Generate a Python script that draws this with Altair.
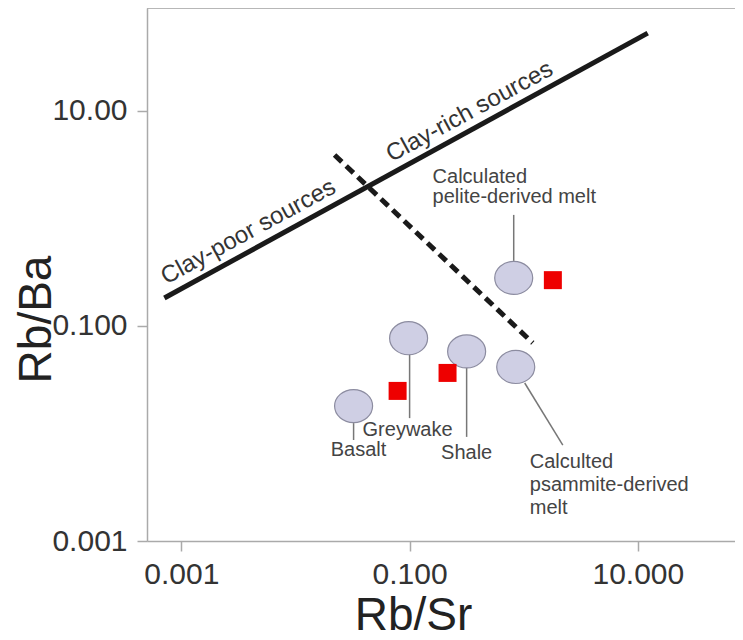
import altair as alt
import pandas as pd

# ---- data ----
circle_names = ["Basalt", "Greywake", "Shale", "Calculated psammite-derived melt", "Calculated pelite-derived melt"]
circle_rbsr = [0.0323, 0.098, 0.316, 0.851, 0.817]
circle_rbba = [0.018, 0.077, 0.058, 0.0416, 0.28]

square_rbsr = [0.0785, 0.215, 1.80]
square_rbba = [0.0249, 0.0366, 0.267]

clay_line_rbsr = [0.00071, 12.2]
clay_line_rbba = [0.182, 53.0]
dash_line_rbsr = [0.022, 1.2]
dash_line_rbba = [3.9, 0.0696]

leader_x1 = [0.0323, 0.1, 0.316, 1.02, 0.817]
leader_y1 = [0.0125, 0.055, 0.0407, 0.0295, 0.403]
leader_x2 = [0.0323, 0.1, 0.316, 2.2, 0.817]
leader_y2 = [0.0087, 0.0139, 0.0093, 0.0078, 1.08]

center_labels = ["Basalt", "Greywake", "Shale"]
center_label_x = [0.0357, 0.096, 0.316]
center_label_y = [0.00703, 0.0108, 0.0066]

left_labels = ["Calculted", "psammite-derived", "melt", "Calculated", "pelite-derived melt"]
left_label_x = [1.13, 1.13, 1.13, 0.159, 0.159]
left_label_y = [0.00544, 0.00332, 0.00203, 2.43, 1.585]

region_labels = ["Clay-poor sources", "Clay-rich sources"]
region_x = [0.00387, 0.336]
region_y = [0.748, 9.8]

x_ticks = [0.001, 0.1, 10]
y_ticks = [0.001, 0.1, 10]

FONT = "Liberation Sans"
W, H = 588, 533

xs = alt.Scale(type="log", domain=[0.0005, 71], nice=False)
ys = alt.Scale(type="log", domain=[0.001, 90.8], nice=False)

xaxis = alt.Axis(values=x_ticks, format=".3f", title="Rb/Sr", grid=False,
                 tickSize=10, tickColor="#aaaaaa", tickWidth=1.5,
                 domainColor="#aaaaaa", domainWidth=1.5,
                 labelFontSize=30, labelColor="#333333", labelPadding=8,
                 labelFont=FONT, labelFlush=False, labelOverlap=False,
                 titleFont=FONT, titleFontSize=46, titleFontWeight="normal",
                 titleColor="#222222", titleX=266, titleY=88,
                 titleBaseline="alphabetic", titleAlign="center")
yaxis = alt.Axis(values=y_ticks,
                 labelExpr="datum.value >= 10 ? format(datum.value, '.2f') : format(datum.value, '.3f')",
                 title="Rb/Ba", grid=False,
                 tickSize=10, tickColor="#aaaaaa", tickWidth=1.5,
                 domainColor="#aaaaaa", domainWidth=1.5,
                 labelFontSize=30, labelColor="#333333", labelPadding=10,
                 labelFont=FONT, labelFlush=False, labelOverlap=False,
                 titleFont=FONT, titleFontSize=46, titleFontWeight="normal",
                 titleColor="#222222", titleAngle=270, titleX=-97, titleY=311,
                 titleBaseline="alphabetic", titleAlign="center")


def X(f):
    return alt.X(f, type="quantitative", scale=xs, axis=xaxis)


def Y(f):
    return alt.Y(f, type="quantitative", scale=ys, axis=yaxis)


circles = pd.DataFrame({"name": circle_names, "x": circle_rbsr, "y": circle_rbba})
squares = pd.DataFrame({"x": square_rbsr, "y": square_rbba})
clay = pd.DataFrame({"x": [clay_line_rbsr[0]], "x2": [clay_line_rbsr[1]],
                     "y": [clay_line_rbba[0]], "y2": [clay_line_rbba[1]]})
dash = pd.DataFrame({"x": [dash_line_rbsr[0]], "x2": [dash_line_rbsr[1]],
                     "y": [dash_line_rbba[0]], "y2": [dash_line_rbba[1]]})
leaders = pd.DataFrame({"x": leader_x1, "y": leader_y1, "x2": leader_x2, "y2": leader_y2})
clab = pd.DataFrame({"t": center_labels, "x": center_label_x, "y": center_label_y})
llab = pd.DataFrame({"t": left_labels, "x": left_label_x, "y": left_label_y})
rlab = pd.DataFrame({"t": region_labels, "x": region_x, "y": region_y})

top_frame = alt.Chart(pd.DataFrame({"a": [0]})).mark_rule(color="#aaaaaa", strokeWidth=1.5).encode(
    x=alt.value(0), x2=alt.value(W), y=alt.value(0))

clay_rule = alt.Chart(clay).mark_rule(color="#1a1a1a", strokeWidth=5, strokeCap="butt").encode(
    x=X("x"), x2="x2", y=Y("y"), y2="y2")
dash_rule = alt.Chart(dash).mark_rule(color="#1a1a1a", strokeWidth=5, strokeDash=[10, 6], strokeCap="butt").encode(
    x=X("x"), x2="x2", y=Y("y"), y2="y2")
leader_rule = alt.Chart(leaders).mark_rule(color="#777777", strokeWidth=1.5).encode(
    x=X("x"), x2="x2", y=Y("y"), y2="y2")

ellipse = "M -1 0 A 1 0.87 0 1 1 1 0 A 1 0.87 0 1 1 -1 0 Z"
circ = alt.Chart(circles).mark_point(shape=ellipse, size=1444, filled=True, fill="#cfcfe4",
                                     stroke="#8c8ca0", strokeWidth=1.2, opacity=1).encode(
    x=X("x"), y=Y("y"))
sq = alt.Chart(squares).mark_point(shape="square", size=324, filled=True, fill="#ee0000",
                                   strokeWidth=0, opacity=1).encode(x=X("x"), y=Y("y"))

ctext = alt.Chart(clab).mark_text(font=FONT, fontSize=20, color="#444444", align="center",
                                  baseline="middle").encode(x=X("x"), y=Y("y"), text="t")
ltext = alt.Chart(llab).mark_text(font=FONT, fontSize=20, color="#444444", align="left",
                                  baseline="middle").encode(x=X("x"), y=Y("y"), text="t")
rtext = alt.Chart(rlab).mark_text(font=FONT, fontSize=24, color="#333333", align="center",
                                  baseline="middle", angle=331.5).encode(x=X("x"), y=Y("y"), text="t")

chart = alt.layer(top_frame, clay_rule, dash_rule, leader_rule, circ, sq, ctext, ltext, rtext).properties(
    width=W, height=H,
    padding={"left": 139, "top": 0, "right": 0, "bottom": 91},
    autosize=alt.AutoSizeParams(type="none"),
).configure_view(stroke=None).configure(background="white")

chart.save("out.html", embed_options={"renderer": "svg", "actions": False})
